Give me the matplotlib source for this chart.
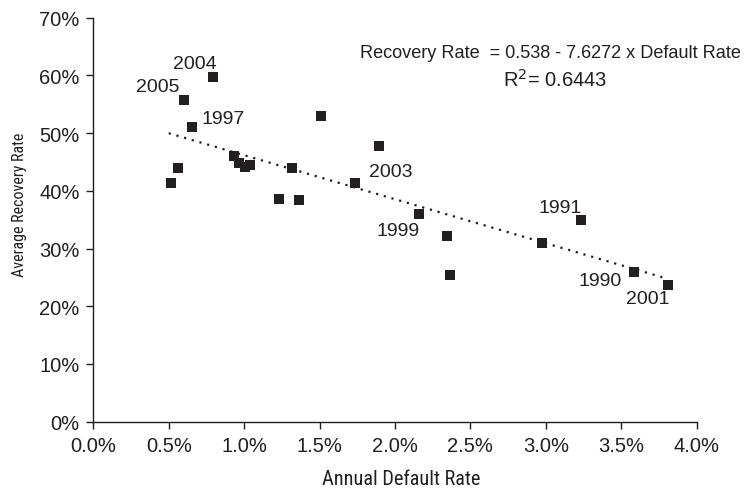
import matplotlib
matplotlib.use("Agg")
import matplotlib.pyplot as plt
import numpy as np
from matplotlib.ticker import FuncFormatter, MultipleLocator

# Annual default rate (%) and average recovery rate (%) by year
default_rate = [0.795, 0.603, 0.656, 1.511, 1.896, 0.935, 0.968, 1.008, 1.039,
                0.563, 0.517, 1.315, 1.737, 1.233, 1.366, 2.161, 2.347, 2.367,
                2.976, 3.235, 3.584, 3.812]
recovery_rate = [59.8, 55.7, 51.1, 53.0, 47.8, 46.1, 44.9, 44.1, 44.5,
                 44.0, 41.4, 44.0, 41.4, 38.6, 38.4, 35.9, 32.2, 25.5,
                 31.0, 35.0, 26.0, 23.7]
year_labels = ["2004", "2005", "1997", "", "", "", "", "", "",
               "", "", "", "2003", "", "", "1999", "", "",
               "", "1991", "1990", "2001"]

# Regression line: Recovery Rate = 0.538 - 7.6272 x Default Rate
intercept = 0.538
slope = -7.6272
r_squared = 0.6443
fit_range = [0.5, 3.8]

# Label offsets (points) relative to each labeled marker
label_offsets = {
    "2004": (-13.5, 9.5),
    "2005": (-19.0, 9.7),
    "1997": (22.0, 5.9),
    "2003": (25.5, 7.9),
    "1999": (-15.3, -11.2),
    "1991": (-15.3, 9.1),
    "1990": (-24.1, -6.2),
    "2001": (-14.6, -9.6),
}

ink = "#231f20"
plt.rcParams["font.family"] = ["Liberation Sans", "DejaVu Sans"]
narrow = ["Roboto Condensed", "Liberation Sans", "DejaVu Sans"]

fig = plt.figure(figsize=(7.45, 4.89), dpi=100)
ax = fig.add_axes([0.1252, 0.1356, 0.8100, 0.8262])

# Trend line
fx = np.array(fit_range)
fy = (intercept + slope * fx / 100.0) * 100.0
ax.plot(fx, fy, color=ink, lw=1.6, linestyle=(0, (1, 2.6)), zorder=2)

# Data points
ax.scatter(default_rate, recovery_rate, marker="s", s=52, color=ink,
           linewidths=0, zorder=3)

for x, y, lab in zip(default_rate, recovery_rate, year_labels):
    if lab:
        dx, dy = label_offsets[lab]
        ax.annotate(lab, (x, y), xytext=(dx, dy), textcoords="offset points",
                    ha="center", va="center", fontsize=14, color=ink)

ax.set_xlim(0, 4.0)
ax.set_ylim(0, 70)
ax.xaxis.set_major_locator(MultipleLocator(0.5))
ax.yaxis.set_major_locator(MultipleLocator(10))
ax.xaxis.set_major_formatter(FuncFormatter(lambda v, p: f"{v:.1f}%"))
ax.yaxis.set_major_formatter(FuncFormatter(lambda v, p: f"{v:.0f}%"))

for side in ("top", "right"):
    ax.spines[side].set_visible(False)
for side in ("left", "bottom"):
    ax.spines[side].set_color(ink)
    ax.spines[side].set_linewidth(1.0)

ax.tick_params(axis="both", direction="out", length=5, width=1.0,
               color=ink, labelcolor=ink, labelsize=14.5)
ax.tick_params(axis="x", pad=5)
ax.tick_params(axis="y", pad=5)

# Axis titles
fig.text(0.539, 0.008, "Annual Default Rate", ha="center", va="baseline",
         fontsize=14.6, color=ink, family=narrow)
fig.text(0.026, 0.581, "Average Recovery Rate", ha="center", va="center",
         rotation=90, fontsize=11.5, color=ink, family=narrow)

# Regression equation
ax.text(0.757, 0.915, f"Recovery Rate  = {intercept} - {abs(slope)} x Default Rate",
        transform=ax.transAxes, ha="center", va="center", fontsize=13.1, color=ink)
ax.text(0.765, 0.848, rf"R$^2$= {r_squared}",
        transform=ax.transAxes, ha="center", va="center", fontsize=14.5, color=ink)

fig.savefig("out.png", dpi=100)
